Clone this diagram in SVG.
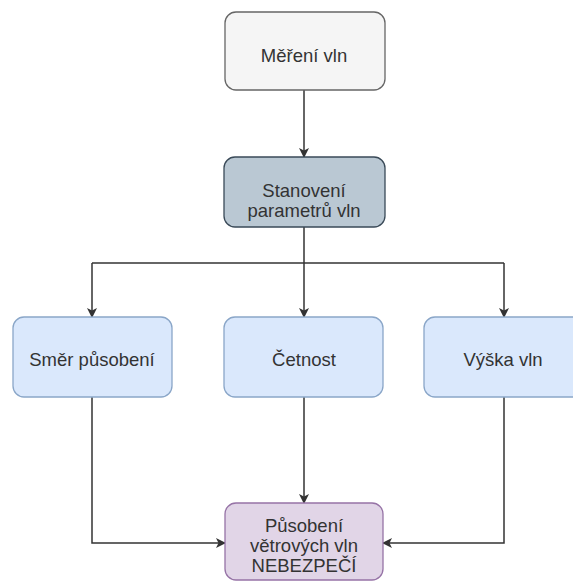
<svg xmlns="http://www.w3.org/2000/svg" width="573" height="582" viewBox="0 0 573 582">
<style>
.box{stroke-width:1.3}
.t{font-family:"Liberation Sans",Arial,sans-serif;font-size:18.5px;fill:#333;text-anchor:middle}
.e{fill:none;stroke:#333;stroke-width:1.5}
</style>
<defs>
<marker id="ah" viewBox="0 0 10 10" refX="9" refY="5" markerWidth="10" markerHeight="10" markerUnits="userSpaceOnUse" orient="auto">
<path d="M0,0 L10,5 L0,10 L2.5,5 Z" fill="#333"/>
</marker>
</defs>
<rect width="573" height="582" fill="#ffffff"/>
<g id="connectors">
<path class="e" d="M304,90 V157" marker-end="url(#ah)"/>
<path class="e" d="M304,227 V317" marker-end="url(#ah)"/>
<path class="e" d="M92,263 H504" />
<path class="e" d="M92,263 V317" marker-end="url(#ah)"/>
<path class="e" d="M504,263 V317" marker-end="url(#ah)"/>
<path class="e" d="M304,397 V503" marker-end="url(#ah)"/>
<path class="e" d="M92,397 V543 H225" marker-end="url(#ah)"/>
<path class="e" d="M504,397 V543 H383" marker-end="url(#ah)"/>
</g>
<g id="mereni">
<rect class="box" x="225" y="12" width="160" height="78" rx="11" fill="#f5f5f5" stroke="#666"/>
<text class="t" x="304" y="62">Měření vln</text>
</g>
<g id="stanoveni">
<rect class="box" x="224" y="157" width="161" height="70" rx="11" fill="#bac8d3" stroke="#3a4a58"/>
<text class="t" x="304" y="197">Stanovení</text>
<text class="t" x="304" y="217">parametrů vln</text>
</g>
<g id="smer">
<rect class="box" x="13" y="317" width="159" height="80" rx="11" fill="#dae8fc" stroke="#8aa6c8"/>
<text class="t" x="92" y="366">Směr působení</text>
</g>
<g id="cetnost">
<rect class="box" x="224" y="317" width="159" height="80" rx="11" fill="#dae8fc" stroke="#8aa6c8"/>
<text class="t" x="304" y="366">Četnost</text>
</g>
<g id="vyska">
<rect class="box" x="424" y="317" width="160" height="80" rx="11" fill="#dae8fc" stroke="#8aa6c8"/>
<text class="t" x="503" y="366">Výška vln</text>
</g>
<g id="pusobeni">
<rect class="box" x="225" y="503" width="158" height="77" rx="11" fill="#e1d5e7" stroke="#9673a6"/>
<text class="t" x="304" y="532">Působení</text>
<text class="t" x="304" y="552">větrových vln</text>
<text class="t" x="304" y="572">NEBEZPEČÍ</text>
</g>
</svg>
